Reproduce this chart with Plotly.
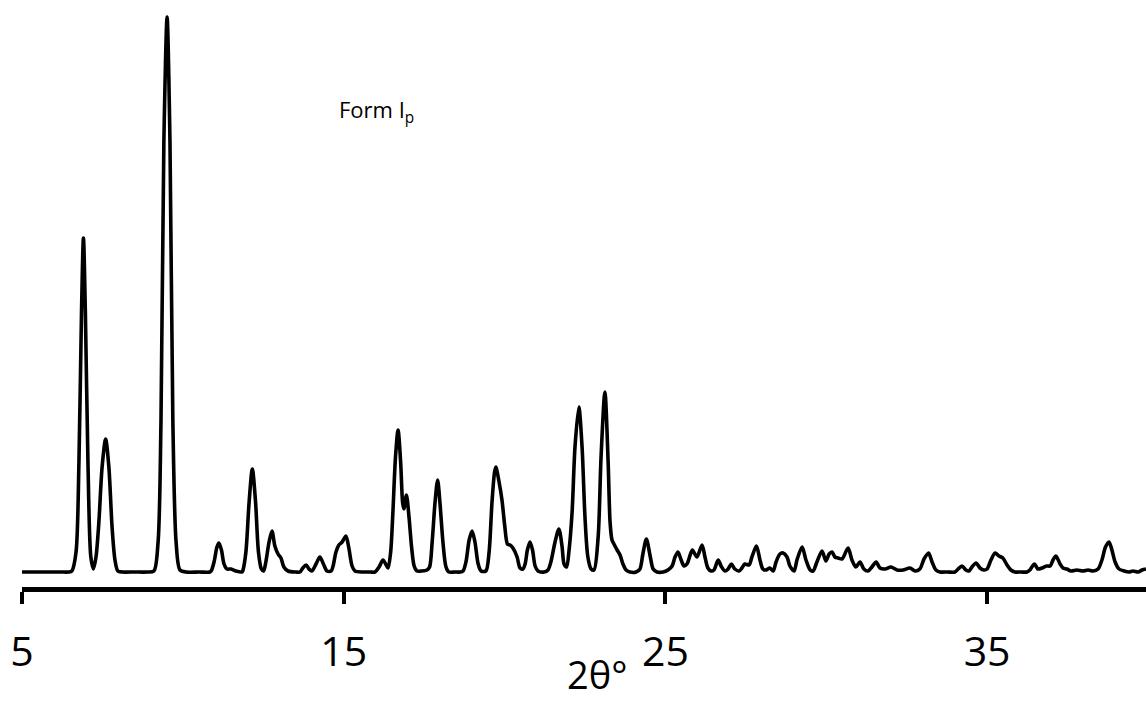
import plotly.graph_objects as go

two_theta = [
    5.00, 5.60, 6.20, 6.45, 6.55, 6.68, 6.77, 6.85, 6.91, 6.97, 7.05, 7.14, 7.22,
    7.30, 7.39, 7.49, 7.60, 7.70, 7.80, 7.89, 7.98, 8.11, 8.50, 8.90,
    9.10, 9.23, 9.32, 9.41, 9.51, 9.60, 9.69, 9.79, 9.91, 10.10, 10.50,
    10.84, 10.88, 10.97, 11.06, 11.12, 11.20, 11.28, 11.37, 11.50, 11.65, 11.84,
    11.87, 11.96, 12.06, 12.16, 12.26, 12.35, 12.44, 12.51,
    12.58, 12.68, 12.77, 12.86, 12.96, 13.05, 13.14, 13.27, 13.52,
    13.64, 13.73, 13.83, 13.92, 14.01, 14.14, 14.26, 14.37, 14.48, 14.61,
    14.67, 14.76, 14.85, 14.95, 15.07, 15.16, 15.26, 15.35, 15.60, 15.82,
    15.97, 16.10, 16.22, 16.32, 16.38, 16.46, 16.53, 16.61, 16.69, 16.77,
    16.83, 16.87, 16.95, 17.03, 17.11, 17.19, 17.28, 17.43, 17.59,
    17.67, 17.75, 17.84, 17.92, 17.99, 18.09, 18.18, 18.27, 18.45, 18.62,
    18.71, 18.80, 18.90, 18.99, 19.08, 19.18, 19.27,
    19.42, 19.52, 19.61, 19.69, 19.73, 19.83, 19.92, 20.01, 20.09, 20.17,
    20.26, 20.39, 20.48, 20.57, 20.64, 20.71, 20.79, 20.87, 20.95, 21.04, 21.23,
    21.35, 21.44, 21.57, 21.69, 21.79, 21.85, 21.93,
    22.00, 22.10, 22.19, 22.31, 22.41, 22.50, 22.59, 22.69, 22.78,
    22.91, 23.00, 23.12, 23.22, 23.28, 23.34, 23.40, 23.50, 23.59, 23.68,
    23.78, 23.90, 24.09, 24.21, 24.30, 24.41, 24.52, 24.62, 24.74, 24.93,
    25.08, 25.21, 25.30, 25.39, 25.49, 25.58, 25.67, 25.77, 25.84, 25.98,
    26.14, 26.23, 26.32, 26.42, 26.51, 26.64, 26.73, 26.85, 26.95, 27.05,
    27.16, 27.29, 27.38, 27.47, 27.60, 27.69, 27.83, 27.94, 28.03, 28.13,
    28.25, 28.35, 28.44, 28.56, 28.66, 28.78, 28.87, 29.00, 29.09, 29.25,
    29.37, 29.50, 29.59, 29.71, 29.87, 29.99, 30.09, 30.18, 30.27, 30.37,
    30.49, 30.68, 30.80, 30.92, 31.05, 31.17, 31.30, 31.42, 31.55, 31.67,
    31.83, 32.01, 32.20, 32.39, 32.60, 32.76, 32.91, 33.04, 33.18, 33.29,
    33.41, 33.54, 33.77, 34.00, 34.10, 34.22, 34.34, 34.44, 34.53, 34.66, 34.78,
    34.90, 35.00, 35.12, 35.25, 35.37, 35.49, 35.62, 35.74, 35.87, 36.05, 36.24,
    36.33, 36.47, 36.58, 36.71, 36.85, 36.96, 37.05, 37.14, 37.27, 37.36,
    37.48, 37.61, 37.79, 37.98, 38.14, 38.29, 38.45, 38.57, 38.68, 38.79,
    38.88, 38.98, 39.10, 39.26, 39.41, 39.54, 39.69, 39.82, 39.94,
]
intensity = [
    0, 0, 0, 0, 1, 20, 110, 260, 334, 260, 110, 15, 3,
    15, 50, 105, 133, 105, 45, 12, 1, 0, 0, 0,
    1, 30, 150, 430, 555, 430, 150, 30, 2, 0, 0,
    0, 1, 10, 25, 29, 22, 8, 3, 3, 1, 0,
    2, 20, 70, 103, 70, 20, 3, 1,
    10, 30, 41, 26, 18, 14, 5, 1, 0,
    0, 4, 7, 3, 1, 8, 15, 8, 1, 1,
    6, 20, 27, 30, 36, 24, 6, 1, 0, 0,
    0, 5, 12, 7, 4, 20, 60, 115, 142, 110,
    70, 63, 77, 55, 25, 6, 1, 1, 2,
    5, 30, 70, 92, 70, 28, 5, 0, 0, 0,
    1, 10, 32, 41, 30, 8, 1,
    1, 20, 70, 100, 105, 90, 72, 45, 28, 27,
    24, 15, 4, 3, 8, 22, 30, 22, 6, 1, 0,
    2, 10, 30, 43, 25, 8, 5,
    20, 60, 125, 165, 125, 55, 15, 3, 2,
    35, 115, 180, 110, 50, 32, 28, 22, 17, 8,
    2, 0, 0, 3, 18, 33, 17, 3, 0, 0,
    2, 6, 15, 20, 12, 6, 8, 17, 22, 15,
    27, 15, 4, 1, 2, 12, 6, 1, 3, 8,
    3, 1, 4, 8, 7, 15, 26, 12, 3, 2,
    4, 1, 10, 18, 19, 15, 6, 1, 12, 25,
    12, 2, 1, 10, 21, 11, 18, 20, 15, 14,
    13, 24, 12, 5, 10, 3, 1, 5, 10, 4,
    3, 5, 2, 2, 4, 1, 3, 13, 19, 10,
    2, 0, 0, 0, 3, 6, 2, 1, 5, 9, 4,
    2, 3, 12, 19, 16, 14, 7, 2, 0, 0, 0,
    2, 8, 3, 4, 6, 6, 12, 16, 8, 4,
    3, 1, 2, 1, 2, 1, 3, 12, 25, 30,
    22, 10, 3, 1, 0, 1, 0, 2, 3,
]
tick_values = [5, 15, 25, 35]
tick_labels = ["5", "15", "25", "35"]

FONT = "Open Sans"

fig = go.Figure()
fig.add_trace(go.Scatter(
    x=two_theta, y=intensity, mode="lines",
    line=dict(color="black", width=3.6, shape="spline", smoothing=0.8),
    hoverinfo="skip", showlegend=False,
))

fig.update_layout(
    width=1146, height=702,
    margin=dict(l=22, r=0, t=0, b=115),
    paper_bgcolor="white", plot_bgcolor="white",
    xaxis=dict(
        range=[5, 39.94], tickvals=tick_values, ticktext=tick_labels,
        showgrid=False, zeroline=False, showline=True, linecolor="black",
        linewidth=4.5, ticks="outside", ticklen=12, tickwidth=3.5,
        tickcolor="black", ticklabelstandoff=13,
        tickfont=dict(family=FONT, size=41, color="black"),
    ),
    yaxis=dict(range=[-15, 572], visible=False),
    annotations=[
        dict(text="2θ°", xref="paper", yref="paper", x=0.5116, y=-0.149,
             xanchor="center", yanchor="middle", showarrow=False,
             font=dict(family=FONT, size=38, color="black")),
        dict(text="Form I<sub>p</sub>", xref="paper", yref="paper",
             x=0.3158, y=0.811, xanchor="center", yanchor="middle",
             showarrow=False, font=dict(family=FONT, size=22, color="black")),
    ],
)

fig.write_html("out.html")
